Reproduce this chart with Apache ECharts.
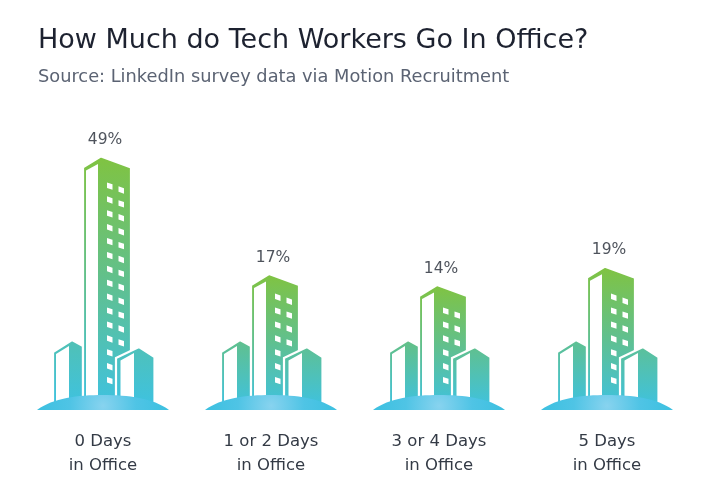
<!DOCTYPE html>
<html>
<head>
<meta charset="utf-8">
<script src="https://cdn.jsdelivr.net/npm/echarts@6/dist/echarts.min.js"></script>
<style>
html,body{margin:0;padding:0;background:#fff;}
#chart{width:726px;height:484px;}
</style>
</head>
<body>
<div id="chart"></div>
<script>
// ---- data ----
const categories = ['0 Days\nin Office', '1 or 2 Days\nin Office', '3 or 4 Days\nin Office', '5 Days\nin Office'];
const shares = [49, 17, 14, 19];
const titleText = 'How Much do Tech Workers Go In Office?';
const subtitleText = 'Source: LinkedIn survey data via Motion Recruitment';

const Y_MIN = -20, Y_MAX = 60;
const FONT = 'DejaVu Sans';

const chart = echarts.init(document.getElementById('chart'));

function grad(y1, y2) {
  return {
    type: 'linear', x: 0, y: y1, x2: 0, y2: y2, global: true,
    colorStops: [
      { offset: 0, color: '#80c341' },
      { offset: 0.5, color: '#60c08f' },
      { offset: 1, color: '#3dc2e3' }
    ]
  };
}

function renderBuilding(params, api) {
  const idx = api.value(0);
  const v = api.value(1);
  const topPt = api.coord([idx, v]);
  const basePt = api.coord([idx, Y_MIN]);
  const cx = topPt[0];
  const py = topPt[1];
  const g = basePt[1];
  const fill = grad(py, g);
  const P = (pts) => pts.map(p => [cx + p[0], p[1]]);
  const children = [];
  // left small building
  children.push({ type: 'polygon', shape: { points: P([[-50, g - 58], [-31, g - 70], [-20, g - 64], [-20, g], [-50, g]]) },
    style: { fill: fill, stroke: '#fff', lineWidth: 2.2 } });
  children.push({ type: 'polygon', shape: { points: P([[-47, g - 56], [-34, g - 64], [-34, g], [-47, g]]) },
    style: { fill: '#fff' } });
  // main tower
  children.push({ type: 'polygon', shape: { points: P([[-20, py + 11], [-2, py], [28, py + 11], [28, g], [-20, g]]) },
    style: { fill: fill, stroke: '#fff', lineWidth: 2.2 } });
  children.push({ type: 'polygon', shape: { points: P([[-17, py + 14], [-5, py + 7.5], [-5, g], [-17, g]]) },
    style: { fill: '#fff' } });
  // windows (anchored from bottom)
  const slope = 0.34, ww = 5.5, wh = 5.5, step = 13.9;
  const lastTop = g - 33;
  for (let k = 0; ; k++) {
    const t = lastTop - k * step;
    if (t < py + 19) break;
    const cols = k >= 3 ? [4, 15.5] : [4];
    cols.forEach(xl => {
      const tt = t + (xl - 4) * slope;
      children.push({ type: 'polygon', shape: { points: P([[xl, tt], [xl + ww, tt + ww * slope], [xl + ww, tt + ww * slope + wh], [xl, tt + wh]]) },
        style: { fill: '#fff' } });
    });
  }
  // right small building
  children.push({ type: 'polygon', shape: { points: P([[13, g - 52], [36, g - 63], [51.5, g - 53], [51.5, g], [13, g]]) },
    style: { fill: fill, stroke: '#fff', lineWidth: 2.2 } });
  children.push({ type: 'polygon', shape: { points: P([[17.5, g - 49.5], [31, g - 57], [31, g], [17.5, g]]) },
    style: { fill: '#fff' } });
  // ground dome
  const d = `M${cx - 66} ${g} C${cx - 50} ${g - 12} ${cx - 25} ${g - 15} ${cx} ${g - 15} C${cx + 25} ${g - 15} ${cx + 50} ${g - 12} ${cx + 66} ${g} Z`;
  children.push({ type: 'path', shape: { pathData: d },
    style: { fill: { type: 'radial', x: cx, y: g - 4, r: 66, global: true,
      colorStops: [{ offset: 0, color: '#88d3ef' }, { offset: 0.5, color: '#4fc4e5' }, { offset: 1, color: '#3cc0e0' }] } } });
  return { type: 'group', children: children };
}

chart.setOption({
  backgroundColor: '#fff',
  animation: false,
  title: [
    { text: titleText, left: 38, top: 27.5, padding: 0, textStyle: { fontFamily: FONT, fontSize: 27, fontWeight: 'normal', color: '#1d2230' } },
    { text: subtitleText, left: 38, top: 68, padding: 0, textStyle: { fontFamily: FONT, fontSize: 17.8, fontWeight: 'normal', color: '#5b6373' } }
  ],
  grid: { left: 19, right: 35, top: 116, bottom: 74 },
  xAxis: {
    type: 'category', data: categories,
    axisLine: { show: false }, axisTick: { show: false },
    axisLabel: { margin: 20, fontFamily: FONT, fontSize: 16.5, lineHeight: 24, color: '#333a45', interval: 0 }
  },
  yAxis: { type: 'value', min: Y_MIN, max: Y_MAX, show: false, splitLine: { show: false } },
  series: [
    {
      type: 'custom',
      renderItem: renderBuilding,
      data: shares.map((v, i) => [i, v]),
      encode: { x: 0, y: 1 },
      z: 2
    },
    {
      type: 'scatter',
      data: shares,
      symbolSize: 1,
      itemStyle: { color: 'rgba(0,0,0,0)' },
      label: {
        show: true, position: 'top', distance: 8, offset: [2, 0],
        formatter: (p) => p.value + '%',
        fontFamily: FONT, fontSize: 15.5, color: '#222833'
      },
      z: 3
    }
  ]
});
</script>
</body>
</html>
